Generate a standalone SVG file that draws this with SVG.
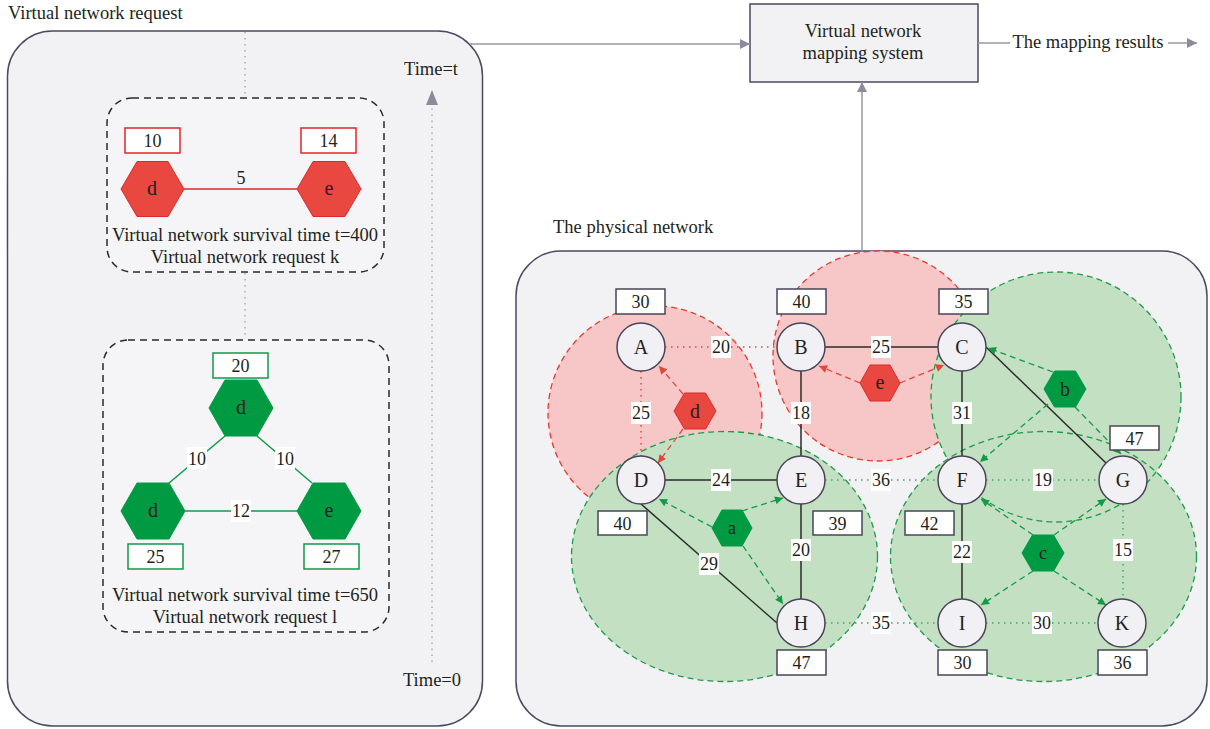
<svg xmlns="http://www.w3.org/2000/svg" width="1210" height="729" viewBox="0 0 1210 729">
<style>
text{font-family:"Liberation Serif","Times New Roman",serif;fill:#231f20}
.t16{font-size:18px}
.s{font-size:18.5px}
.n{font-size:20px}
.c{text-anchor:middle}
.panel{fill:#f2f2f4;stroke:#4e4860;stroke-width:1.5}
.dbox{fill:#f5f5f7;stroke:#2a2a2a;stroke-width:1.5;stroke-dasharray:7 5}
.lb{fill:#fff;stroke:#4a4458;stroke-width:1.5}
.lbr{fill:#fff;stroke:#e0242a;stroke-width:1.5}
.lbg{fill:#fff;stroke:#0f9a48;stroke-width:1.5}
.node{fill:#f1f0f5;stroke:#4a4458;stroke-width:1.5}
.hr{fill:#e8483f;stroke:#dc2a2a;stroke-width:1}
.hg{fill:#009a42;stroke:#009a42;stroke-width:1}
.solid{stroke:#2a2a2a;stroke-width:1.5;fill:none}
.dotr{stroke:#e5463c;stroke-width:1.5;stroke-dasharray:1.5 4.5;fill:none}
.dotg{stroke:#3aa860;stroke-width:1.5;stroke-dasharray:1.5 4.5;fill:none}
.arr{stroke:#e5463c;stroke-width:1.3;stroke-dasharray:6 4;fill:none}
.arg{stroke:#129a48;stroke-width:1.3;stroke-dasharray:6 4;fill:none}
.grey{stroke:#9a96a6;stroke-width:1.5;fill:none}
.gdot{stroke:#aaa8b2;stroke-width:1.5;stroke-dasharray:1.5 4.5;fill:none}
.wb{fill:#fff}
.pinkf{fill:#f7c6c6}
.greenf{fill:#c3e0c3}
.redc{fill:none;stroke:#e53b2c;stroke-width:1.3;stroke-dasharray:6 4}
.greenc{fill:none;stroke:#1c9c4a;stroke-width:1.3;stroke-dasharray:6 4}
</style>
<defs>
<marker id="mr" viewBox="0 0 10 10" refX="10" refY="5" markerWidth="9" markerHeight="8" markerUnits="userSpaceOnUse" orient="auto"><path d="M0,0 L10,5 L0,10 z" fill="#e5463c"/></marker>
<marker id="mg" viewBox="0 0 10 10" refX="10" refY="5" markerWidth="9" markerHeight="8" markerUnits="userSpaceOnUse" orient="auto"><path d="M0,0 L10,5 L0,10 z" fill="#129a48"/></marker>
<marker id="mgr" viewBox="0 0 10 10" refX="10" refY="5" markerWidth="10" markerHeight="10" markerUnits="userSpaceOnUse" orient="auto"><path d="M0,0 L10,5 L0,10 z" fill="#8e8a9c"/></marker>
</defs>

<!-- Panels -->
<g id="vnr-panel">
<text x="8" y="19" class="s">Virtual network request</text>
<rect class="panel" x="7.5" y="31" width="475" height="695" rx="45"/>
</g>
<g id="phys-panel">
<text x="553" y="233" class="s">The physical network</text>
<rect class="panel" x="516" y="251" width="691" height="475" rx="45"/>
</g>
<g id="mapping-system">
<rect x="750" y="4" width="228" height="78" fill="#f2f2f4" stroke="#4e4860" stroke-width="1.5"/>
<text x="863" y="37" class="s c">Virtual network</text>
<text x="863" y="59" class="s c">mapping system</text>
</g>
<g id="mapping-results">
<text x="1088" y="48" class="s c">The mapping results</text>
</g>

<!-- Left panel content -->
<g id="timeline">
<line class="gdot" x1="245" y1="32" x2="245" y2="97"/>
<line class="gdot" x1="245" y1="273" x2="245" y2="339"/>
<line class="gdot" x1="432" y1="662" x2="432" y2="106"/>
<path d="M426,105 L432,90 L438,105 z" fill="#8e8a9c"/>
<text x="431" y="75" class="s c">Time=t</text>
<text x="432" y="686" class="s c">Time=0</text>
</g>

<g id="request-k">
<rect class="dbox" x="107" y="98" width="277" height="174" rx="25"/>
<line x1="184" y1="189" x2="297" y2="189" stroke="#e0242a" stroke-width="1.5"/>
<text x="241" y="184" class="t16 c">5</text>
<rect class="lbr" x="125" y="128" width="55" height="25"/>
<text x="152.5" y="147" class="t16 c">10</text>
<rect class="lbr" x="301" y="128" width="55" height="25"/>
<text x="328.5" y="147" class="t16 c">14</text>
<polygon class="hr" points="121,189 137,161.5 168,161.5 184,189 168,216.5 137,216.5"/>
<text x="152" y="195" class="n c">d</text>
<polygon class="hr" points="297,189 313,161.5 345,161.5 361,189 345,216.5 313,216.5"/>
<text x="329" y="195" class="n c">e</text>
<text x="245" y="241" class="s c">Virtual network survival time t=400</text>
<text x="245" y="263" class="s c">Virtual network request k</text>
</g>

<g id="request-l">
<rect class="dbox" x="103" y="340" width="286" height="292" rx="25"/>
<line x1="225" y1="436" x2="169" y2="483" stroke="#0f9a48" stroke-width="1.5"/>
<line x1="257" y1="436" x2="312" y2="483" stroke="#0f9a48" stroke-width="1.5"/>
<line x1="185" y1="511" x2="297" y2="511" stroke="#0f9a48" stroke-width="1.5"/>
<rect class="wb" x="187" y="447" width="20" height="22"/>
<text x="197" y="465" class="t16 c">10</text>
<rect class="wb" x="275" y="447" width="20" height="22"/>
<text x="285" y="465" class="t16 c">10</text>
<rect class="wb" x="231" y="500" width="20" height="22"/>
<text x="241" y="517" class="t16 c">12</text>
<rect class="lbg" x="213" y="353" width="55" height="25"/>
<text x="240.5" y="372" class="t16 c">20</text>
<rect class="lbg" x="128" y="544" width="55" height="25"/>
<text x="155.5" y="563" class="t16 c">25</text>
<rect class="lbg" x="304" y="544" width="55" height="25"/>
<text x="331.5" y="563" class="t16 c">27</text>
<polygon class="hg" points="209,408 225,380 257,380 273,408 257,436 225,436"/>
<text x="241" y="414" class="n c">d</text>
<polygon class="hg" points="121,511 137,483 169,483 185,511 169,539 137,539"/>
<text x="153" y="517" class="n c">d</text>
<polygon class="hg" points="297,511 313,483 345,483 361,511 345,539 313,539"/>
<text x="329" y="517" class="n c">e</text>
<text x="245" y="601" class="s c">Virtual network survival time t=650</text>
<text x="245" y="623" class="s c">Virtual network request l</text>
</g>

<!-- Mapping regions -->
<g id="regions">
<circle class="pinkf" cx="655" cy="413" r="107"/>
<circle class="redc" cx="655" cy="413" r="107"/>
<circle class="pinkf" cx="878" cy="356" r="105"/>
<circle class="redc" cx="878" cy="356" r="105"/>
<circle class="greenf" cx="1056" cy="397" r="125"/>
<ellipse class="greenf" cx="724.5" cy="556.5" rx="153" ry="125"/>
<ellipse class="greenf" cx="1043.5" cy="556.5" rx="153" ry="125"/>
<circle class="greenc" cx="1056" cy="397" r="125"/>
<ellipse class="greenc" cx="724.5" cy="556.5" rx="153" ry="125"/>
<ellipse class="greenc" cx="1043.5" cy="556.5" rx="153" ry="125"/>
</g>

<!-- Connectors -->
<g id="connectors">
<line class="grey" x1="470" y1="44" x2="750" y2="44" marker-end="url(#mgr)"/>
<line class="grey" x1="862" y1="251" x2="862" y2="82" marker-end="url(#mgr)"/>
<line class="grey" x1="978" y1="43" x2="1010" y2="43"/>
<line class="grey" x1="1168" y1="43" x2="1197" y2="43" marker-end="url(#mgr)"/>

<line class="dotr" x1="641" y1="347" x2="801" y2="347"/>
<line class="dotr" x1="641" y1="347" x2="641" y2="480"/>
<line class="solid" x1="801" y1="347" x2="962" y2="347"/>
<line class="solid" x1="801" y1="347" x2="801" y2="623"/>
<line class="solid" x1="962" y1="347" x2="962" y2="623"/>
<line class="solid" x1="986" y1="347" x2="1106" y2="463"/>
<line class="solid" x1="641" y1="480" x2="801" y2="480"/>
<line class="solid" x1="641" y1="504" x2="777" y2="623"/>
<line class="dotg" x1="801" y1="480" x2="962" y2="480"/>
<line class="dotg" x1="962" y1="480" x2="1123" y2="480"/>
<line class="dotg" x1="1123" y1="480" x2="1123" y2="623"/>
<line class="dotg" x1="801" y1="623" x2="962" y2="623"/>
<line class="dotg" x1="962" y1="623" x2="1123" y2="623"/>

<line class="arr" x1="683" y1="394" x2="659" y2="366" marker-end="url(#mr)"/>
<line class="arr" x1="683" y1="429" x2="658" y2="463" marker-end="url(#mr)"/>
<line class="arr" x1="860" y1="383" x2="819" y2="366" marker-end="url(#mr)"/>
<line class="arr" x1="900" y1="383" x2="944" y2="365" marker-end="url(#mr)"/>
<line class="arg" x1="1053" y1="372" x2="988" y2="348" marker-end="url(#mg)"/>
<line class="arg" x1="1048" y1="404" x2="980" y2="462" marker-end="url(#mg)"/>
<line class="arg" x1="1075" y1="407" x2="1121" y2="454" marker-end="url(#mg)"/>
<line class="arg" x1="712" y1="527" x2="659" y2="499" marker-end="url(#mg)"/>
<line class="arg" x1="742" y1="511" x2="783" y2="498" marker-end="url(#mg)"/>
<line class="arg" x1="743" y1="546" x2="783" y2="604" marker-end="url(#mg)"/>
<line class="arg" x1="1033" y1="535" x2="981" y2="499" marker-end="url(#mg)"/>
<line class="arg" x1="1054" y1="535" x2="1106" y2="499" marker-end="url(#mg)"/>
<line class="arg" x1="1033" y1="571" x2="981" y2="605" marker-end="url(#mg)"/>
<line class="arg" x1="1054" y1="571" x2="1106" y2="605" marker-end="url(#mg)"/>

<g class="wb">
<rect x="711" y="336" width="20" height="22"/>
<rect x="871" y="336" width="20" height="22"/>
<rect x="631" y="402" width="20" height="22"/>
<rect x="791" y="402" width="20" height="22"/>
<rect x="952" y="402" width="20" height="22"/>
<rect x="711" y="469" width="20" height="22"/>
<rect x="871" y="469" width="20" height="22"/>
<rect x="1033" y="469" width="20" height="22"/>
<rect x="699" y="553" width="20" height="22"/>
<rect x="791" y="539" width="20" height="22"/>
<rect x="952" y="541" width="20" height="22"/>
<rect x="1113" y="539" width="20" height="22"/>
<rect x="871" y="612" width="20" height="22"/>
<rect x="1032" y="612" width="20" height="22"/>
</g>
<text x="721" y="353" class="t16 c">20</text>
<text x="881" y="353" class="t16 c">25</text>
<text x="641" y="419" class="t16 c">25</text>
<text x="801" y="419" class="t16 c">18</text>
<text x="962" y="419" class="t16 c">31</text>
<text x="721" y="486" class="t16 c">24</text>
<text x="881" y="486" class="t16 c">36</text>
<text x="1043" y="486" class="t16 c">19</text>
<text x="709" y="570" class="t16 c">29</text>
<text x="801" y="556" class="t16 c">20</text>
<text x="962" y="558" class="t16 c">22</text>
<text x="1123" y="556" class="t16 c">15</text>
<text x="881" y="629" class="t16 c">35</text>
<text x="1042" y="629" class="t16 c">30</text>
</g>

<!-- Physical nodes -->
<g id="node-A"><circle class="node" cx="641" cy="347" r="24"/><text x="641" y="354" class="n c">A</text>
<rect class="lb" x="616" y="289" width="49" height="25"/><text x="640.5" y="308" class="t16 c">30</text></g>
<g id="node-B"><circle class="node" cx="801" cy="347" r="24"/><text x="801" y="354" class="n c">B</text>
<rect class="lb" x="777" y="289" width="49" height="25"/><text x="801.5" y="308" class="t16 c">40</text></g>
<g id="node-C"><circle class="node" cx="962" cy="347" r="24"/><text x="962" y="354" class="n c">C</text>
<rect class="lb" x="939" y="289" width="49" height="25"/><text x="963.5" y="308" class="t16 c">35</text></g>
<g id="node-D"><circle class="node" cx="641" cy="480" r="24"/><text x="641" y="487" class="n c">D</text>
<rect class="lb" x="598" y="511" width="49" height="24"/><text x="622.5" y="530" class="t16 c">40</text></g>
<g id="node-E"><circle class="node" cx="801" cy="480" r="24"/><text x="801" y="487" class="n c">E</text>
<rect class="lb" x="813" y="511" width="49" height="24"/><text x="837.5" y="530" class="t16 c">39</text></g>
<g id="node-F"><circle class="node" cx="962" cy="480" r="24"/><text x="962" y="487" class="n c">F</text>
<rect class="lb" x="905" y="511" width="49" height="24"/><text x="929.5" y="530" class="t16 c">42</text></g>
<g id="node-G"><circle class="node" cx="1123" cy="480" r="24"/><text x="1123" y="487" class="n c">G</text>
<rect class="lb" x="1110" y="426" width="49" height="24"/><text x="1134.5" y="445" class="t16 c">47</text></g>
<g id="node-H"><circle class="node" cx="801" cy="623" r="24"/><text x="801" y="630" class="n c">H</text>
<rect class="lb" x="777" y="650" width="49" height="25"/><text x="801.5" y="669" class="t16 c">47</text></g>
<g id="node-I"><circle class="node" cx="962" cy="623" r="24"/><text x="962" y="630" class="n c">I</text>
<rect class="lb" x="938" y="650" width="49" height="25"/><text x="962.5" y="669" class="t16 c">30</text></g>
<g id="node-K"><circle class="node" cx="1122" cy="623" r="24"/><text x="1122" y="630" class="n c">K</text>
<rect class="lb" x="1098" y="650" width="49" height="25"/><text x="1122.5" y="669" class="t16 c">36</text></g>

<!-- Virtual nodes mapped -->
<g id="vnode-d"><polygon class="hr" points="674,411 684.5,393 705.5,393 716,411 705.5,429 684.5,429"/><text x="695" y="418" class="n c">d</text></g>
<g id="vnode-e"><polygon class="hr" points="860,383 870,365 890,365 900,383 890,401 870,401"/><text x="880" y="389" class="n c">e</text></g>
<g id="vnode-b"><polygon class="hg" points="1044,389 1054.5,371 1075.5,371 1086,389 1075.5,407 1054.5,407"/><text x="1065" y="396" class="n c">b</text></g>
<g id="vnode-a"><polygon class="hg" points="712,528 722,510 742,510 752,528 742,546 722,546"/><text x="732" y="534" class="t16 c">a</text></g>
<g id="vnode-c"><polygon class="hg" points="1022,553 1032.5,535 1053.5,535 1064,553 1053.5,571 1032.5,571"/><text x="1043" y="559" class="t16 c">c</text></g>
</svg>
